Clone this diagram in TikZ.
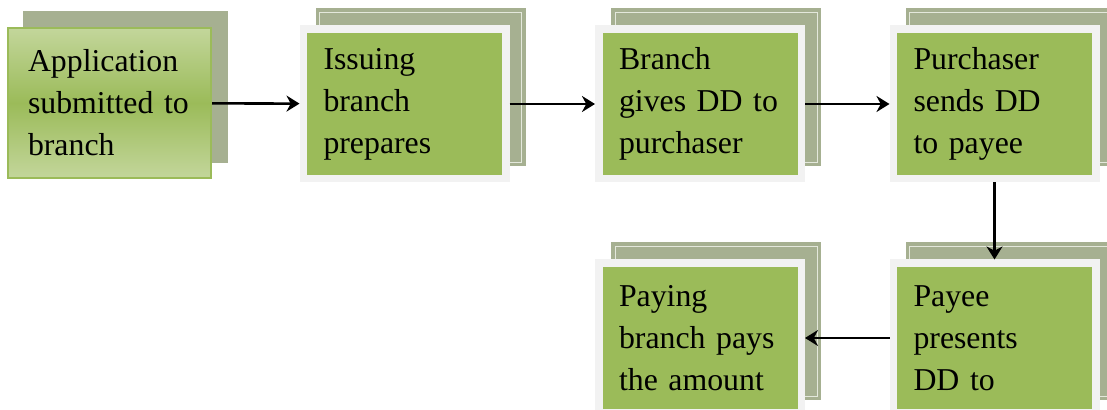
\documentclass[tikz,border=0pt]{standalone}
\usepackage{fontspec}
\setmainfont{Liberation Serif}
\usetikzlibrary{arrows.meta,backgrounds}
\definecolor{stepgreen}{HTML}{9BBB59}
\definecolor{lightgreen}{HTML}{C3D69B}
\definecolor{framegray}{HTML}{F2F2F2}
\definecolor{sheetgreen}{HTML}{A6B091}
\definecolor{sheetline}{HTML}{E4E8DC}
\tikzset{
    step text/.style={font=\fontsize{15.9}{21}\selectfont, align=left, text=black},
    stepbox/.style={step text, fill=stepgreen, text width=81pt, inner xsep=8.25pt,
        minimum height=71pt, outer sep=3.75pt,
        preaction={draw=framegray, line width=7.5pt}},
    firstbox/.style={step text, draw=stepgreen, line width=1pt,
        top color=lightgreen, bottom color=lightgreen, middle color=stepgreen,
        text width=81.5pt, inner xsep=10pt, minimum height=75pt},
    back sheet/.style={fill=sheetgreen},
    sheet line/.style={draw=sheetline, line width=0.5pt},
    arr/.style={-{Stealth[length=6.5pt,width=8pt]}, line width=1.3pt},
}

\begin{document}
\begin{tikzpicture}[x=0.5pt,y=-0.5pt]
    \useasboundingbox (0,0) rectangle (1107,410);
    % steps of the demand draft
    \node[firstbox] (apply) at (109.5,103) {Application\\submitted~to\\branch};
    \node[stepbox] (issue) at (404.5,104) {Issuing\\branch\\prepares};
    \node[stepbox] (give) at (700,104) {Branch\\gives~DD~to\\purchaser};
    \node[stepbox] (send) at (994.5,104) {Purchaser\\sends~DD\\to~payee};
    \node[stepbox] (present) at (994.5,338) {Payee\\presents\\DD~to};
    \node[stepbox] (pay) at (700,338) {Paying\\branch~pays\\the~amount};
    % sheets behind
    \begin{scope}[on background layer]
        \fill[back sheet] ([shift={(16,-16)}]apply.south west) rectangle ([shift={(16,-16)}]apply.north east);
        \foreach \n in {issue,give,send,present,pay}{
            \fill[back sheet] ([shift={(16,-16)}]\n.south west) rectangle ([shift={(16,-17)}]\n.north east);
            \draw[sheet line] ([shift={(20,-20)}]\n.south west) rectangle ([shift={(12,-13)}]\n.north east);
        }
    \end{scope}
    % flow
    \draw[arr] (apply) -- (issue);
    \draw[arr] (issue) -- (give);
    \draw[arr] (give) -- (send);
    \draw[arr] (send) -- (present);
    \draw[arr] (present) -- (pay);
\end{tikzpicture}
\end{document}
